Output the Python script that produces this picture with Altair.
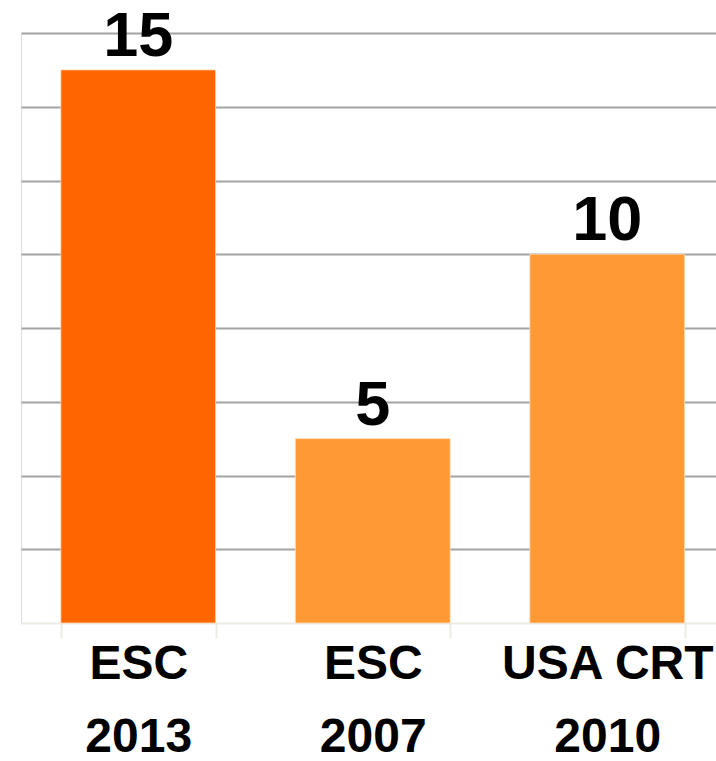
import altair as alt
import pandas as pd

# Survey sources and the count reported by each
sources = ["ESC\n2013", "ESC\n2007", "USA CRT\n2010"]
counts = [15, 5, 10]
bar_colors = ["#FF6600", "#FF9933", "#FF9933"]
grid_values = [2, 4, 6, 8, 10, 12, 14, 16]

df = pd.DataFrame({"source": sources, "count": counts})

FONT = "Liberation Sans"

x_enc = alt.X(
    "source:N",
    sort=sources,
    title=None,
    scale=alt.Scale(range=[0, 703.5], paddingInner=0.34, paddingOuter=0.17),
    axis=alt.Axis(
        labelExpr="isValid(datum.value) ? split(datum.value, '\\n') : ''",
        labelAngle=0,
        labelFont=FONT,
        labelFontSize=48,
        labelFontWeight="bold",
        labelColor="#000000",
        labelLineHeight=73,
        labelPadding=2,
        labelBaseline="top",
        labelLimit=0,
        labelOverlap=False,
        domainColor="#ECECE4",
        domainWidth=2,
        tickColor="#ECECE4",
        tickWidth=2,
        tickSize=15,
        tickBand="extent",
        grid=False,
    ),
)

y_enc = alt.Y(
    "count:Q",
    scale=alt.Scale(domain=[0, 16], nice=False),
    title=None,
    axis=alt.Axis(
        values=grid_values,
        labels=False,
        ticks=False,
        domain=False,
        grid=True,
        gridColor="#A3A3A3",
        gridWidth=2,
    ),
)

bars = alt.Chart(df).mark_bar(stroke="#FFD9B8", strokeWidth=0.8).encode(
    x=x_enc,
    y=y_enc,
    color=alt.Color(
        "source:N",
        sort=sources,
        scale=alt.Scale(domain=sources, range=bar_colors),
        legend=None,
    ),
)

labels = alt.Chart(df).mark_text(
    font=FONT,
    fontSize=63,
    fontWeight="bold",
    color="#000000",
    baseline="alphabetic",
    dy=-14,
).encode(
    x=x_enc,
    y=y_enc,
    text=alt.Text("count:Q"),
)

chart = (
    alt.layer(bars, labels)
    .properties(
        width=695,
        height=590,
        autosize=alt.AutoSizeParams(type="none"),
        padding={"left": 21, "top": 33, "right": 0, "bottom": 138},
    )
    .configure_view(stroke=None)
    .configure(background="#FFFFFF")
)

chart.save("out.html", embed_options={"renderer": "svg", "actions": False})
